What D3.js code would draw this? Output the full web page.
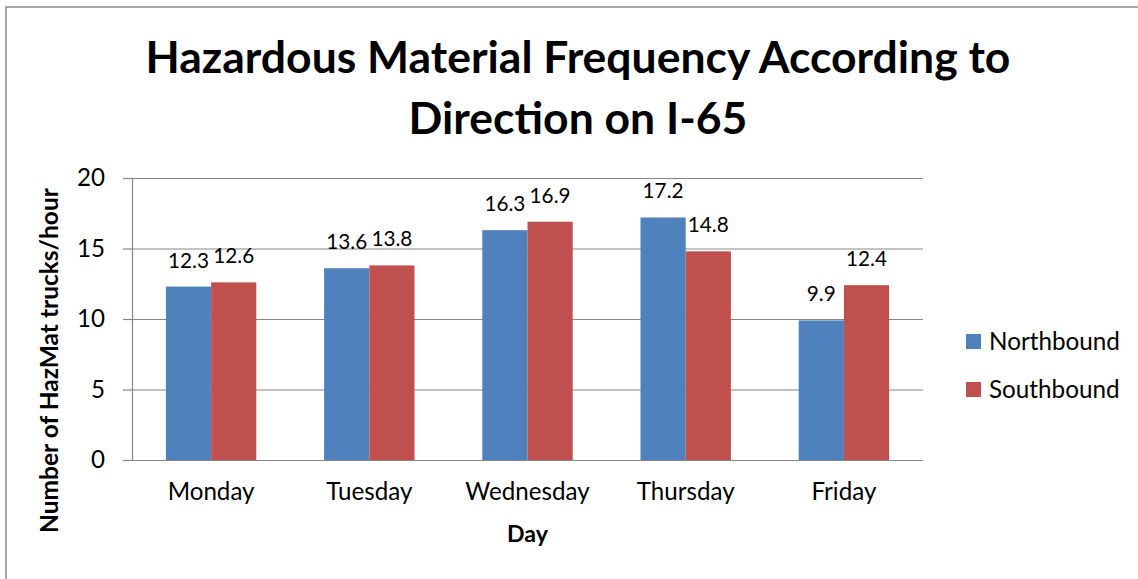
<!DOCTYPE html>
<html>
<head>
<meta charset="utf-8">
<script src="https://cdn.jsdelivr.net/npm/d3@7"></script>
<style>
  html, body { margin: 0; padding: 0; background: #fff; }
  svg { display: block; }
  text { font-family: Lato, "Open Sans", sans-serif; fill: #000; }
</style>
</head>
<body>
<svg id="chart" width="1138" height="579"></svg>
<script>
const categories = ["Monday", "Tuesday", "Wednesday", "Thursday", "Friday"];
const seriesNames = ["Northbound", "Southbound"];
const northbound = [12.3, 13.6, 16.3, 17.2, 9.9];
const southbound = [12.6, 13.8, 16.9, 14.8, 12.4];
const yTicks = [0, 5, 10, 15, 20];
const titleLines = ["Hazardous Material Frequency According to", "Direction on I-65"];
const xTitle = "Day";
const yTitle = "Number of HazMat trucks/hour";

const colors = ["#4F81BD", "#C0504D"];
const gridColor = "#878787";

const svg = d3.select("#chart");

// helper: font size so that the string has the target width
function fitSize(str, weight, target) {
  const t = svg.append("text").attr("font-size", 100).attr("font-weight", weight).text(str);
  const w = t.node().getComputedTextLength();
  t.remove();
  return 100 * target / w;
}

// chart border (only top/left visible in reference)
svg.append("rect")
  .attr("x", 6).attr("y", 7).attr("width", 1200).attr("height", 700)
  .attr("fill", "#fff").attr("stroke", "#8a8a8a").attr("stroke-width", 1.5);

const plotL = 132, plotR = 923, plotT = 178, plotB = 460;

const x0 = d3.scaleBand().domain(categories).range([plotL, plotR])
  .paddingInner(1.5 / 3.5).paddingOuter(0.75 / 3.5);
const x1 = d3.scaleBand().domain(seriesNames).range([0, x0.bandwidth()]);
const y = d3.scaleLinear().domain([0, 20]).range([plotB, plotT]);

// gridlines
svg.append("g").selectAll("line").data(yTicks.filter(d => d > 0)).join("line")
  .attr("x1", plotL).attr("x2", plotR)
  .attr("y1", d => y(d) + 0.5).attr("y2", d => y(d) + 0.5)
  .attr("stroke", gridColor).attr("stroke-width", 1.2);

// data table
const data = categories.map((c, i) => ({ cat: c, values: [northbound[i], southbound[i]] }));

const tickSize = fitSize("Monday", 400, 87);
const numSize = fitSize("12.3", 400, 41);

// bars
const groups = svg.append("g").selectAll("g").data(data).join("g")
  .attr("transform", d => `translate(${x0(d.cat)},0)`);
groups.selectAll("rect").data(d => d.values.map((v, j) => ({ v, s: seriesNames[j], j })))
  .join("rect")
  .attr("x", d => x1(d.s))
  .attr("width", x1.bandwidth())
  .attr("y", d => y(d.v))
  .attr("height", d => y(0) - y(d.v))
  .attr("fill", d => colors[d.j]);

// data labels
groups.selectAll("text.lbl").data(d => d.values.map((v, j) => ({ v, s: seriesNames[j], j })))
  .join("text").attr("class", "lbl")
  .attr("x", d => x1(d.s) + x1.bandwidth() / 2)
  .attr("y", d => y(d.v) - 19)
  .attr("text-anchor", "middle")
  .attr("font-size", numSize)
  .text(d => d.v.toFixed(1));

// y axis
const yAxis = svg.append("g").attr("transform", `translate(${plotL},0)`)
  .call(d3.axisLeft(y).tickValues(yTicks).tickSize(9).tickPadding(18).tickFormat(d3.format("d")));
yAxis.select(".domain").attr("stroke", gridColor).attr("stroke-width", 1.2)
  .attr("d", `M0.5,${plotT}V${plotB}`);
yAxis.selectAll(".tick line").attr("stroke", gridColor).attr("stroke-width", 1.2);
yAxis.selectAll(".tick text").attr("font-size", tickSize).attr("font-family", null).attr("fill", "#000");

// x axis
const xAxis = svg.append("g").attr("transform", `translate(0,${plotB})`)
  .call(d3.axisBottom(x0).tickSize(0).tickPadding(0));
xAxis.select(".domain").attr("stroke", gridColor).attr("stroke-width", 1.2)
  .attr("d", `M123,0.5H${plotR}`);
xAxis.selectAll(".tick text").attr("font-size", tickSize).attr("font-family", null)
  .attr("fill", "#000").attr("y", 40).attr("dy", null);

// axis titles
svg.append("text")
  .attr("x", (plotL + plotR) / 2).attr("y", 542)
  .attr("text-anchor", "middle").attr("font-weight", "bold")
  .attr("font-size", fitSize(xTitle, "bold", 41))
  .text(xTitle);

svg.append("text")
  .attr("transform", "translate(58,360.5) rotate(-90)")
  .attr("text-anchor", "middle").attr("font-weight", "bold")
  .attr("font-size", fitSize(yTitle, "bold", 345))
  .text(yTitle);

// title
const titleSize = fitSize(titleLines[0], "bold", 865);
svg.append("g").selectAll("text").data(titleLines).join("text")
  .attr("x", 578).attr("y", (d, i) => 73 + i * 61)
  .attr("text-anchor", "middle").attr("font-weight", "bold")
  .attr("font-size", titleSize)
  .text(d => d);

// legend
const legSize = fitSize("Northbound", 400, 131);
const leg = svg.append("g").selectAll("g").data(seriesNames).join("g")
  .attr("transform", (d, i) => `translate(966,${334 + i * 48})`);
leg.append("rect").attr("width", 15).attr("height", 15).attr("fill", (d, i) => colors[i]);
leg.append("text").attr("x", 23).attr("y", 15.5).attr("font-size", legSize).text(d => d);
</script>
</body>
</html>
